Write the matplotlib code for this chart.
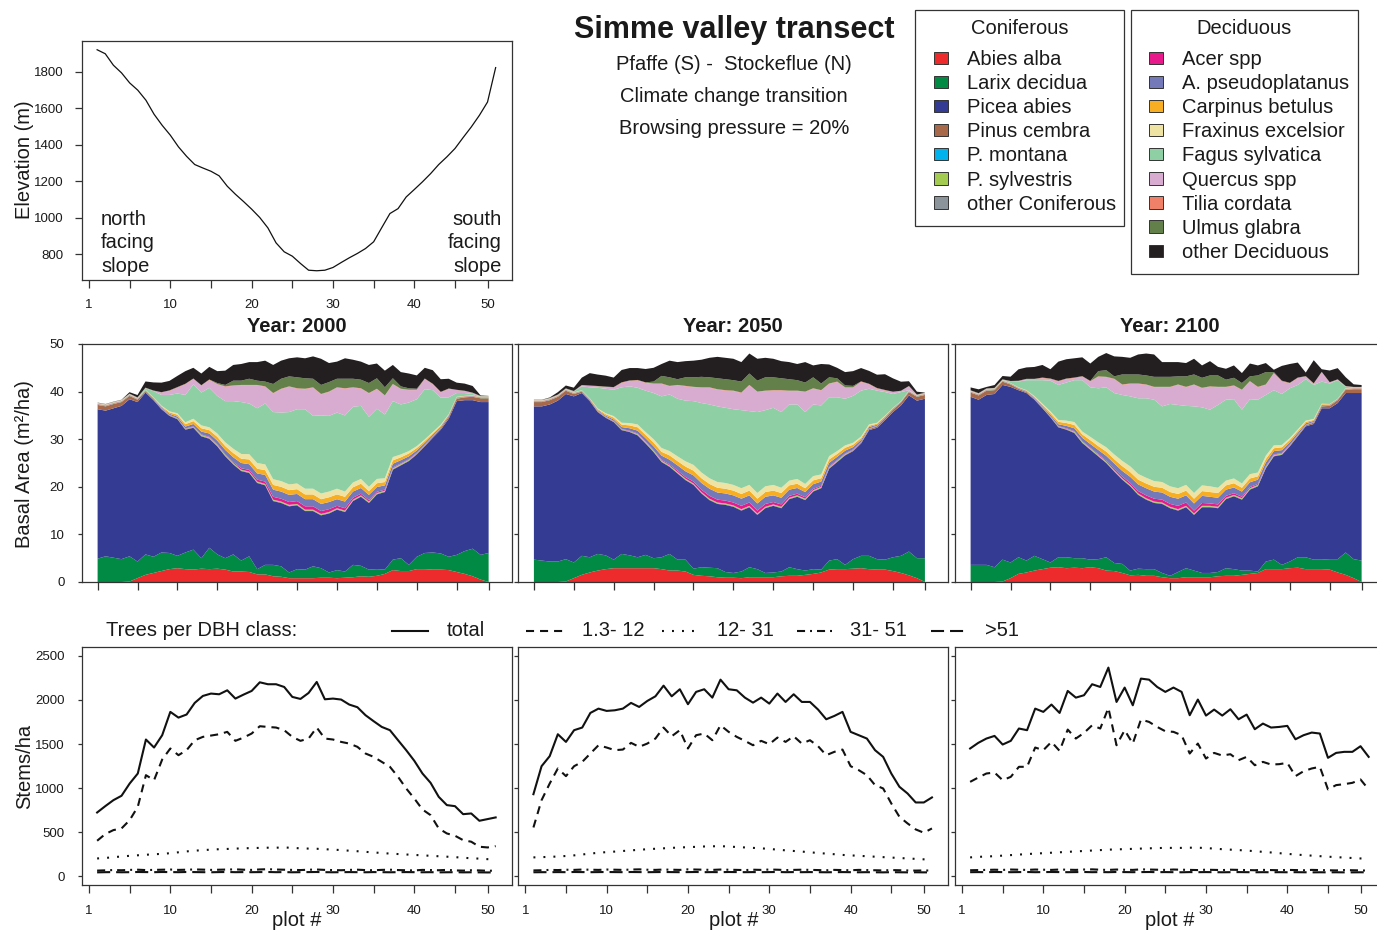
import matplotlib
matplotlib.use("Agg")
import matplotlib.pyplot as plt
from matplotlib.patches import Rectangle
import numpy as np

plt.rcParams['font.family'] = ['Liberation Sans', 'DejaVu Sans']
plt.rcParams['lines.scale_dashes'] = False

# ---------------------------------------------------------------- data
plots = np.arange(1, 51)
years = [2000, 2050, 2100]

elevation = [1922, 1900, 1837, 1795, 1740, 1700, 1645, 1568, 1507, 1453,
             1389, 1337, 1292, 1273, 1255, 1230, 1173, 1129, 1089, 1047,
             1001, 944, 862, 813, 789, 749, 712, 709, 712, 727,
             754, 780, 804, 831, 868, 946, 1023, 1050, 1114, 1155,
             1197, 1242, 1292, 1334, 1380, 1440, 1498, 1562, 1635, 1824]

con_names = ['Abies alba', 'Larix decidua', 'Picea abies', 'Pinus cembra',
             'P. montana', 'P. sylvestris', 'other Coniferous']
con_colors = ['#ED2A2C', '#008A43', '#333B93', '#A8694B',
              '#00B3EE', '#A3CB50', '#8B939B']
dec_names = ['Acer spp', 'A. pseudoplatanus', 'Carpinus betulus',
             'Fraxinus excelsior', 'Fagus sylvatica', 'Quercus spp',
             'Tilia cordata', 'Ulmus glabra', 'other Deciduous']
dec_colors = ['#E8198B', '#7479BA', '#F7AE23', '#EFE3A4', '#8FCFA4',
              '#D8ABD0', '#F18068', '#637F4A', '#231F20']

# basal area (m2/ha) per plot, minor species (similar in all three years)
cembra = [0.9, 0.9, 0.9, 0.8, 0.7, 0.5, 0.3, 0.2, 0.15, 0.1,
          0.1, 0.1, 0.1, 0.1, 0.1, 0.1, 0.1, 0.1, 0.1, 0.1,
          0.1, 0.1, 0.1, 0.1, 0.1, 0.1, 0.1, 0.1, 0.1, 0.1,
          0.1, 0.1, 0.1, 0.1, 0.1, 0.1, 0.1, 0.1, 0.1, 0.1,
          0.15, 0.2, 0.2, 0.3, 0.4, 0.5, 0.6, 0.7, 0.8, 0.8]
montana = [0.03, 0.03, 0.03, 0.03, 0.03, 0.03, 0.03, 0.03, 0.03, 0.03,
           0.03, 0.03, 0.03, 0.03, 0.03, 0.03, 0.03, 0.03, 0.03, 0.03,
           0.03, 0.03, 0.03, 0.03, 0.03, 0.03, 0.03, 0.03, 0.03, 0.03,
           0.03, 0.03, 0.03, 0.03, 0.03, 0.03, 0.03, 0.03, 0.03, 0.03,
           0.03, 0.03, 0.03, 0.03, 0.03, 0.03, 0.03, 0.03, 0.03, 0.03]
sylvestris = [0.05, 0.05, 0.05, 0.05, 0.05, 0.05, 0.05, 0.05, 0.05, 0.05,
              0.05, 0.05, 0.05, 0.15, 0.15, 0.15, 0.15, 0.15, 0.15, 0.15,
              0.15, 0.15, 0.15, 0.15, 0.15, 0.15, 0.15, 0.15, 0.15, 0.15,
              0.15, 0.15, 0.15, 0.15, 0.15, 0.15, 0.15, 0.15, 0.15, 0.15,
              0.05, 0.05, 0.05, 0.05, 0.05, 0.05, 0.05, 0.05, 0.05, 0.05]
other_con = [0.02, 0.02, 0.02, 0.02, 0.02, 0.02, 0.02, 0.02, 0.02, 0.02,
             0.02, 0.02, 0.02, 0.02, 0.02, 0.02, 0.02, 0.02, 0.02, 0.02,
             0.02, 0.02, 0.02, 0.02, 0.02, 0.02, 0.02, 0.02, 0.02, 0.02,
             0.02, 0.02, 0.02, 0.02, 0.02, 0.02, 0.02, 0.02, 0.02, 0.02,
             0.02, 0.02, 0.02, 0.02, 0.02, 0.02, 0.02, 0.02, 0.02, 0.02]
acer = [0.05, 0.05, 0.05, 0.05, 0.05, 0.05, 0.05, 0.05, 0.05, 0.05,
        0.05, 0.05, 0.1, 0.1, 0.1, 0.1, 0.15, 0.2, 0.3, 0.35,
        0.4, 0.5, 0.6, 0.6, 0.6, 0.6, 0.7, 0.7, 0.6, 0.6,
        0.5, 0.5, 0.4, 0.35, 0.3, 0.25, 0.2, 0.15, 0.1, 0.1,
        0.1, 0.05, 0.05, 0.05, 0.05, 0.05, 0.05, 0.05, 0.05, 0.05]
pseudo = [0.05, 0.05, 0.05, 0.05, 0.05, 0.05, 0.05, 0.1, 0.15, 0.2,
          0.3, 0.4, 0.5, 0.6, 0.7, 0.8, 0.9, 1.0, 1.1, 1.2,
          1.3, 1.4, 1.5, 1.5, 1.5, 1.5, 1.5, 1.5, 1.5, 1.5,
          1.4, 1.4, 1.3, 1.2, 1.1, 1.0, 0.9, 0.8, 0.7, 0.6,
          0.5, 0.4, 0.3, 0.2, 0.15, 0.1, 0.05, 0.05, 0.05, 0.05]
carpinus = [0.05, 0.05, 0.05, 0.05, 0.05, 0.05, 0.05, 0.1, 0.2, 0.3,
            0.4, 0.5, 0.6, 0.7, 0.7, 0.8, 0.8, 0.9, 0.9, 1.0,
            1.0, 1.0, 1.0, 1.0, 1.0, 1.0, 1.0, 1.0, 1.0, 1.0,
            1.0, 1.0, 0.9, 0.9, 0.8, 0.8, 0.7, 0.7, 0.6, 0.6,
            0.5, 0.4, 0.3, 0.2, 0.15, 0.1, 0.05, 0.05, 0.05, 0.05]
fraxinus = [0.05, 0.05, 0.05, 0.05, 0.05, 0.05, 0.05, 0.05, 0.1, 0.2,
            0.3, 0.4, 0.5, 0.6, 0.6, 0.7, 0.8, 0.9, 1.0, 1.1,
            1.2, 1.2, 1.2, 1.2, 1.2, 1.2, 1.2, 1.2, 1.2, 1.2,
            1.2, 1.1, 1.0, 1.0, 0.9, 0.9, 0.8, 0.7, 0.6, 0.5,
            0.4, 0.3, 0.25, 0.2, 0.1, 0.05, 0.05, 0.05, 0.05, 0.05]
tilia = [0.03, 0.03, 0.03, 0.03, 0.03, 0.03, 0.03, 0.03, 0.03, 0.1,
         0.1, 0.1, 0.1, 0.1, 0.1, 0.1, 0.1, 0.1, 0.1, 0.1,
         0.1, 0.1, 0.1, 0.1, 0.1, 0.1, 0.1, 0.1, 0.1, 0.1,
         0.1, 0.1, 0.1, 0.1, 0.1, 0.1, 0.1, 0.1, 0.1, 0.1,
         0.1, 0.1, 0.1, 0.1, 0.1, 0.03, 0.03, 0.03, 0.03, 0.03]

# basal area (m2/ha) per plot, main species, year 2000
abies_2000 = [0, 0, 0, 0, 0.1, 0.8, 1.5, 1.9, 2.3, 2.7,
              2.9, 2.7, 2.6, 2.8, 2.7, 2.8, 2.6, 2.2, 2.2, 2.1,
              1.6, 1.6, 1.2, 1.1, 0.8, 0.8, 0.8, 0.8, 0.9, 0.9,
              0.8, 0.9, 1.0, 1.2, 1.1, 1.3, 1.7, 2.5, 2.3, 2.3,
              2.7, 2.7, 2.6, 2.6, 2.5, 2.1, 1.7, 1.2, 0.5, 0]
larix_2000 = [4.9, 5.4, 5.1, 4.8, 5.3, 3.5, 4.3, 3.4, 3.9, 3.4,
              2.6, 3.5, 4.2, 2.2, 4.5, 3.0, 2.4, 3.6, 2.3, 3.3,
              1.1, 2.0, 2.4, 2.2, 1.2, 1.9, 1.8, 2.5, 2.0, 1.1,
              1.7, 1.3, 2.6, 2.2, 1.5, 1.4, 0.9, 2.2, 2.7, 1.3,
              2.6, 3.4, 3.6, 3.4, 2.8, 3.6, 4.8, 5.8, 5.2, 6.1]
picea_2000 = [31.4, 30.6, 31.4, 32.2, 33.0, 33.5, 34.0, 32.9, 30.1, 28.8,
              28.7, 25.8, 25.6, 25.6, 22.9, 22.7, 21.4, 18.9, 18.8, 17.5,
              18.1, 16.7, 13.4, 13.3, 13.9, 13.4, 12.3, 11.6, 11.1, 12.4,
              12.7, 12.5, 13.4, 14.5, 14.0, 15.7, 16.3, 18.9, 19.5, 21.8,
              21.5, 22.4, 24.1, 26.0, 29.0, 32.3, 31.7, 31.2, 32.1, 31.7]
fagus_2000 = [0.05, 0.05, 0.05, 0.05, 0.05, 0.05, 0.3, 1.3, 2.25, 3.45,
              4.15, 5.75, 7.2, 6.9, 8.3, 7.9, 8.65, 10.0, 10.9, 10.65,
              11.5, 12.8, 14.1, 14.4, 15.2, 15.6, 16.7, 15.3, 16.4, 15.9,
              16.0, 16.0, 15.9, 15.35, 14.7, 14.75, 13.4, 11.75, 10.5, 10.2,
              9.85, 10.55, 8.8, 5.65, 3.55, 0.8, 0.6, 0.3, 0.05, 0.05]
quercus_2000 = [0.05, 0.05, 0.05, 0.05, 0.05, 0.05, 0.05, 0.05, 0.5, 0.8,
                1.2, 2.2, 1.1, 1.4, 1.6, 2.4, 3.0, 3.2, 3.5, 3.8,
                4.8, 3.5, 3.9, 4.9, 5.3, 4.3, 4.2, 5.9, 4.4, 5.0,
                5.2, 5.6, 4.0, 3.6, 4.9, 4.1, 3.9, 3.5, 3.2, 2.6,
                1.9, 2.1, 1.2, 1.1, 1.7, 0.6, 0.4, 0.2, 0.05, 0.05]
ulmus_2000 = [0.05, 0.05, 0.05, 0.05, 0.05, 0.05, 0.05, 0.05, 0.05, 0.05,
              0.05, 0.05, 0.05, 0.05, 0.05, 0.2, 0.3, 1.0, 0.9, 1.3,
              0.9, 1.0, 1.9, 2.1, 2.1, 2.3, 2.2, 1.8, 1.9, 2.0,
              1.8, 2.0, 1.8, 1.8, 2.1, 2.2, 1.7, 1.2, 0.5, 0.3,
              0.2, 0.05, 0.05, 0.05, 0.05, 0.05, 0.05, 0.05, 0.05, 0.05]
other_dec_2000 = [0.02, 0.02, 0.02, 0.02, 0.3, 0.5, 1.3, 1.7, 2.0, 2.0,
                  2.35, 2.65, 2.25, 2.45, 2.65, 2.5, 3.0, 3.3, 3.5, 3.5,
                  3.9, 4.4, 4.0, 3.8, 3.8, 4.2, 4.2, 4.7, 5.5, 4.0,
                  3.6, 4.3, 4.0, 3.8, 3.8, 3.1, 3.5, 2.8, 3.0, 3.1,
                  2.8, 2.25, 2.85, 2.65, 2.05, 1.5, 1.5, 1.4, 0.1, 0.02]

# year 2050
abies_2050 = [0, 0, 0, 0, 0.1, 0.8, 1.5, 2.0, 2.4, 2.7,
              2.9, 2.9, 2.9, 2.9, 2.9, 2.9, 2.7, 2.4, 2.4, 2.2,
              1.5, 1.3, 1.2, 1.0, 0.9, 0.9, 0.8, 1.0, 1.0, 1.0,
              1.0, 1.2, 1.3, 1.3, 1.5, 1.7, 2.0, 2.6, 2.7, 2.7,
              2.8, 2.9, 2.7, 2.6, 2.6, 2.3, 1.9, 1.4, 0.8, 0]
larix_2050 = [4.7, 4.5, 4.3, 4.3, 4.7, 3.3, 4.0, 3.2, 3.5, 2.9,
              1.8, 3.0, 2.7, 2.3, 2.8, 2.1, 2.5, 3.5, 2.3, 2.5,
              1.3, 1.8, 1.8, 1.9, 1.2, 1.0, 1.4, 2.1, 1.7, 0.9,
              1.0, 1.0, 1.8, 1.4, 0.9, 1.0, 0.6, 1.9, 2.1, 0.9,
              2.0, 2.6, 2.8, 2.2, 2.1, 2.9, 3.6, 5.0, 4.2, 5.0]
picea_2050 = [32.2, 32.4, 33.0, 33.8, 34.7, 34.9, 34.2, 32.8, 29.8, 28.9,
              28.9, 26.0, 25.9, 25.6, 23.4, 22.3, 20.0, 18.3, 18.1, 16.7,
              17.6, 15.5, 14.2, 13.5, 14.1, 13.9, 12.8, 12.6, 11.4, 13.6,
              14.0, 13.3, 14.3, 15.2, 14.8, 16.3, 17.1, 19.3, 20.4, 23.0,
              22.7, 23.6, 26.4, 27.6, 29.3, 30.5, 31.6, 32.8, 33.1, 33.5]
fagus_2050 = [0.05, 0.05, 0.05, 0.05, 0.05, 0.2, 0.8, 2.3, 4.35, 5.15,
              5.55, 7.45, 7.7, 7.7, 8.7, 9.7, 10.85, 11.9, 12.1, 12.75,
              13.4, 14.6, 15.5, 15.9, 15.8, 15.9, 16.4, 15.5, 17.0, 16.0,
              16.2, 15.9, 16.0, 15.65, 15.1, 15.05, 14.5, 12.35, 11.3, 9.8,
              9.85, 9.65, 7.5, 6.75, 4.95, 2.9, 1.9, 0.1, 0.05, 0.05]
quercus_2050 = [0.05, 0.05, 0.05, 0.05, 0.05, 0.05, 0.2, 0.3, 0.3, 0.3,
                0.4, 0.9, 1.1, 1.5, 1.6, 1.9, 2.6, 1.7, 2.8, 3.0,
                2.9, 3.2, 3.5, 3.5, 3.6, 3.8, 3.6, 5.4, 4.2, 4.0,
                3.6, 4.5, 2.8, 2.8, 4.2, 3.3, 3.1, 2.8, 3.2, 2.3,
                1.7, 1.8, 0.9, 0.4, 0.3, 0.4, 0.2, 0.8, 0.05, 0.05]
ulmus_2050 = [0.05, 0.05, 0.05, 0.05, 0.05, 0.05, 0.05, 0.05, 0.05, 0.05,
              0.05, 0.05, 0.05, 0.05, 0.05, 0.4, 1.6, 1.8, 1.2, 1.8,
              2.0, 2.2, 2.1, 2.3, 2.3, 2.2, 2.3, 2.4, 2.3, 2.8,
              2.7, 2.5, 2.4, 2.2, 1.9, 2.3, 1.4, 1.3, 0.7, 0.4,
              0.3, 0.05, 0.05, 0.05, 0.05, 0.05, 0.05, 0.05, 0.05, 0.05]
other_dec_2050 = [0.02, 0.02, 0.1, 0.5, 0.6, 0.7, 1.55, 2.6, 2.4, 2.3,
                  2.0, 2.6, 2.6, 2.5, 2.8, 2.9, 2.5, 3.5, 3.6, 3.4,
                  3.5, 3.6, 4.1, 4.5, 4.5, 4.5, 4.1, 4.2, 4.6, 4.1,
                  3.9, 3.6, 3.6, 3.4, 4.3, 2.5, 4.1, 2.7, 2.2, 2.8,
                  3.1, 2.8, 2.7, 2.8, 3.3, 2.8, 1.9, 1.0, 0.6, 0.02]

# year 2100
abies_2100 = [0, 0, 0, 0, 0.1, 0.8, 1.7, 2.0, 2.4, 2.7,
              3.0, 3.1, 2.9, 3.0, 2.9, 3.1, 2.9, 2.4, 2.3, 1.9,
              1.4, 1.5, 1.3, 1.3, 1.0, 0.8, 0.8, 1.0, 1.0, 1.0,
              1.0, 1.2, 1.3, 1.3, 1.5, 1.7, 1.9, 2.7, 2.7, 2.7,
              2.9, 3.0, 2.7, 2.7, 2.7, 2.6, 2.0, 1.5, 0.8, 0]
larix_2100 = [3.6, 3.6, 3.6, 3.1, 4.6, 3.3, 3.5, 2.5, 3.1, 2.1,
              1.1, 2.1, 2.3, 2.0, 2.1, 1.6, 1.9, 2.8, 1.7, 1.9,
              1.0, 1.3, 1.4, 1.4, 0.9, 0.5, 1.3, 1.9, 1.4, 0.9,
              0.9, 0.9, 1.6, 1.4, 0.9, 0.7, 0.3, 1.6, 2.0, 0.9,
              1.4, 2.2, 2.5, 2.0, 2.0, 2.2, 2.8, 4.7, 4.0, 4.5]
picea_2100 = [35.3, 34.7, 35.7, 36.4, 36.7, 36.9, 35.1, 35.2, 32.8, 31.7,
              30.5, 27.3, 26.8, 26.3, 24.2, 23.1, 21.6, 19.8, 19.2, 17.7,
              17.7, 15.5, 14.6, 13.9, 14.5, 14.2, 12.9, 12.8, 11.7, 13.8,
              13.8, 13.4, 14.5, 15.3, 14.9, 17.0, 17.9, 19.6, 21.7, 23.1,
              24.2, 25.4, 27.5, 28.5, 31.8, 31.7, 32.8, 33.5, 34.9, 35.2]
fagus_2100 = [0.05, 0.05, 0.05, 0.05, 0.05, 0.3, 1.2, 2.1, 3.35, 4.95,
              6.45, 7.35, 8.0, 8.8, 10.8, 10.4, 11.35, 12.6, 12.9, 13.85,
              14.7, 15.9, 16.7, 17.1, 15.9, 17.3, 17.5, 16.6, 18.2, 16.4,
              16.1, 17.4, 17.0, 16.65, 15.5, 15.75, 15.3, 12.75, 11.6, 10.7,
              10.45, 9.35, 8.7, 7.15, 4.65, 4.3, 3.9, 0.3, 0.05, 0.05]
quercus_2100 = [0.05, 0.05, 0.05, 0.05, 0.05, 0.05, 0.1, 0.2, 0.2, 0.4,
                0.3, 0.7, 0.7, 0.4, 0.7, 1.2, 2.4, 2.1, 2.9, 2.1,
                2.6, 3.0, 2.8, 2.6, 4.0, 3.5, 4.2, 3.9, 4.5, 4.0,
                4.8, 3.7, 2.6, 2.8, 4.1, 3.7, 2.6, 2.1, 3.5, 2.6,
                1.0, 1.4, 0.5, 0.2, 1.9, 0.2, 0.1, 0.1, 0.05, 0.05]
ulmus_2100 = [0.05, 0.05, 0.05, 0.05, 0.05, 0.05, 0.05, 0.05, 0.05, 0.05,
              0.05, 0.05, 0.05, 0.05, 0.05, 0.05, 1.1, 1.4, 0.5, 2.1,
              1.9, 1.9, 1.9, 2.1, 2.1, 2.1, 1.7, 2.2, 2.1, 2.1,
              2.3, 2.4, 1.5, 1.6, 1.4, 1.0, 2.4, 2.6, 0.2, 0.1,
              0.05, 0.05, 0.05, 0.05, 0.05, 0.05, 0.05, 0.05, 0.05, 0.05]
other_dec_2100 = [0.6, 0.8, 0.3, 0.6, 0.7, 0.9, 2.4, 2.4, 2.5, 2.65,
                  1.95, 4.05, 4.05, 4.05, 3.95, 3.65, 3.0, 3.6, 4.2, 3.7,
                  3.5, 4.2, 4.6, 4.7, 3.1, 3.1, 3.0, 2.8, 3.3, 2.6,
                  3.0, 1.8, 2.3, 2.6, 2.1, 2.7, 2.1, 1.9, 0.5, 3.1,
                  3.95, 3.15, 0.75, 4.85, 0.55, 2.45, 2.35, 1.85, 0.55, 0.4]

# stems per ha by DBH class (cm)
dbh_labels = ['total', '1.3- 12', '12- 31', '31- 51', '>51']

total_2000 = [722, 794, 862, 912, 1051, 1165, 1551, 1460, 1600, 1865,
              1800, 1835, 1967, 2046, 2073, 2065, 2110, 2016, 2061, 2103,
              2201, 2179, 2179, 2148, 2035, 2012, 2080, 2205, 2008, 2016,
              2005, 1948, 1918, 1827, 1759, 1694, 1657, 1543, 1430, 1309,
              1165, 1059, 900, 806, 794, 703, 711, 628, 647, 666]
small_2000 = [401, 477, 522, 541, 635, 787, 1146, 1089, 1324, 1449,
              1373, 1430, 1543, 1581, 1596, 1611, 1638, 1536, 1573, 1619,
              1702, 1694, 1687, 1657, 1581, 1536, 1562, 1687, 1562, 1551,
              1524, 1505, 1468, 1392, 1354, 1297, 1241, 1127, 995, 881,
              756, 692, 541, 484, 458, 408, 390, 333, 325, 340]
medium_2000 = [200, 205, 215, 222, 230, 236, 242, 248, 252, 260,
               270, 280, 288, 295, 300, 305, 308, 312, 315, 318,
               320, 322, 322, 325, 320, 315, 312, 310, 305, 300,
               295, 288, 282, 275, 268, 262, 255, 250, 245, 240,
               235, 230, 225, 220, 215, 208, 202, 198, 192, 190]
large_2000 = [62, 65, 68, 66, 70, 72, 68, 70, 72, 74,
              70, 72, 75, 73, 70, 72, 74, 76, 72, 70,
              75, 78, 74, 72, 70, 68, 72, 74, 70, 68,
              66, 70, 72, 68, 66, 70, 72, 68, 66, 64,
              70, 68, 66, 70, 64, 62, 66, 64, 60, 62]
huge_2000 = [42, 44, 45, 43, 44, 46, 45, 44, 46, 45,
             44, 46, 45, 44, 43, 45, 46, 44, 45, 44,
             45, 46, 44, 45, 43, 44, 45, 46, 44, 43,
             44, 45, 44, 43, 45, 44, 43, 44, 45, 44,
             43, 44, 42, 43, 44, 42, 43, 42, 41, 42]

total_2050 = [930, 1248, 1362, 1611, 1524, 1657, 1687, 1853, 1902, 1876,
              1883, 1902, 1967, 1921, 1989, 2042, 2163, 2042, 2122, 1952,
              2092, 2122, 2027, 2231, 2122, 2110, 2027, 1970, 2027, 1959,
              2073, 1978, 2065, 1978, 1978, 1891, 1781, 1819, 1865, 1638,
              1600, 1562, 1430, 1354, 1165, 1014, 938, 836, 836, 893]
small_2050 = [552, 862, 1051, 1222, 1135, 1248, 1297, 1392, 1486, 1460,
              1430, 1437, 1513, 1468, 1505, 1562, 1687, 1588, 1657, 1449,
              1600, 1619, 1543, 1713, 1638, 1581, 1536, 1486, 1536, 1498,
              1573, 1524, 1588, 1505, 1543, 1475, 1373, 1411, 1437, 1248,
              1203, 1146, 1033, 995, 825, 673, 598, 530, 492, 541]
medium_2050 = [212, 215, 218, 222, 228, 235, 245, 255, 265, 272,
               278, 285, 292, 298, 305, 310, 315, 320, 325, 328,
               332, 336, 338, 340, 335, 330, 325, 320, 315, 308,
               300, 292, 285, 278, 270, 262, 255, 248, 240, 235,
               230, 225, 220, 215, 210, 205, 200, 195, 190, 188]
large_2050 = [64, 66, 70, 68, 72, 70, 74, 72, 70, 74,
              72, 70, 74, 76, 72, 70, 74, 72, 70, 76,
              74, 72, 70, 74, 72, 70, 68, 72, 70, 74,
              72, 68, 70, 72, 70, 68, 66, 70, 68, 66,
              70, 68, 66, 64, 68, 66, 64, 62, 64, 62]
huge_2050 = [43, 44, 44, 45, 44, 46, 45, 44, 45, 46,
             45, 44, 46, 45, 44, 45, 46, 45, 44, 45,
             46, 44, 45, 44, 46, 45, 44, 45, 44, 45,
             46, 44, 45, 44, 45, 44, 43, 44, 45, 44,
             43, 44, 43, 42, 44, 43, 42, 43, 42, 42]

total_2100 = [1449, 1513, 1562, 1592, 1494, 1536, 1676, 1657, 1902, 1865,
              1948, 1853, 2103, 2027, 2054, 2179, 2148, 2368, 1978, 2141,
              1940, 2243, 2231, 2148, 2092, 2141, 2092, 1827, 2005, 1823,
              1891, 1823, 1895, 1781, 1834, 1668, 1732, 1687, 1694, 1706,
              1554, 1600, 1630, 1619, 1343, 1399, 1411, 1411, 1475, 1354]
small_2100 = [1070, 1119, 1165, 1176, 1089, 1127, 1241, 1241, 1460, 1430,
              1524, 1422, 1664, 1562, 1626, 1713, 1676, 1910, 1486, 1657,
              1505, 1778, 1751, 1694, 1645, 1638, 1600, 1392, 1505, 1335,
              1399, 1369, 1384, 1316, 1354, 1259, 1297, 1267, 1271, 1286,
              1135, 1191, 1222, 1241, 984, 1033, 1044, 1059, 1097, 984]
medium_2100 = [212, 218, 222, 226, 232, 238, 244, 250, 255, 260,
               265, 270, 275, 280, 285, 290, 295, 300, 303, 306,
               309, 312, 315, 318, 320, 320, 320, 322, 322, 318,
               312, 305, 300, 295, 290, 282, 275, 268, 260, 252,
               245, 238, 232, 226, 220, 215, 210, 205, 200, 200]
large_2100 = [66, 68, 70, 72, 70, 74, 72, 70, 74, 72,
              70, 74, 72, 70, 74, 76, 72, 70, 74, 72,
              70, 76, 74, 72, 70, 74, 72, 70, 68, 72,
              70, 68, 72, 70, 68, 66, 70, 68, 66, 70,
              68, 66, 70, 68, 66, 64, 68, 66, 64, 62]
huge_2100 = [44, 45, 44, 46, 45, 44, 45, 46, 44, 45,
             46, 45, 44, 45, 46, 44, 45, 44, 46, 45,
             44, 45, 46, 44, 45, 44, 43, 45, 44, 45,
             44, 43, 44, 45, 44, 43, 44, 43, 44, 43,
             44, 43, 42, 43, 42, 43, 42, 42, 43, 42]

basal = {
    2000: [abies_2000, larix_2000, picea_2000, cembra, montana, sylvestris,
           other_con, acer, pseudo, carpinus, fraxinus, fagus_2000,
           quercus_2000, tilia, ulmus_2000, other_dec_2000],
    2050: [abies_2050, larix_2050, picea_2050, cembra, montana, sylvestris,
           other_con, acer, pseudo, carpinus, fraxinus, fagus_2050,
           quercus_2050, tilia, ulmus_2050, other_dec_2050],
    2100: [abies_2100, larix_2100, picea_2100, cembra, montana, sylvestris,
           other_con, acer, pseudo, carpinus, fraxinus, fagus_2100,
           quercus_2100, tilia, ulmus_2100, other_dec_2100],
}
stems = {
    2000: [total_2000, small_2000, medium_2000, large_2000, huge_2000],
    2050: [total_2050, small_2050, medium_2050, large_2050, huge_2050],
    2100: [total_2100, small_2100, medium_2100, large_2100, huge_2100],
}

# line style per DBH class (dash lengths in points)
dbh_styles = ['-', (0, (5.8, 4.3)), (0, (1.4, 5.8)),
              (0, (5.8, 3.6, 1.4, 3.6)), (0, (9.4, 4.3))]

# ---------------------------------------------------------------- layout
W, H = 1377, 935
fig = plt.figure(figsize=(W / 100, H / 100), dpi=100)
INK = '#333333'
TXT = '#1a1a1a'
BIG = 14.5


def px_axes(left, top, right, bottom):
    return fig.add_axes([left / W, 1 - bottom / H, (right - left) / W, (bottom - top) / H])


def frame(ax, ylen, xlen, ypad, xpad):
    for s in ax.spines.values():
        s.set_color(INK)
        s.set_linewidth(0.9)
    ax.tick_params(axis='y', length=ylen, width=0.9, color=INK, labelsize=9.5,
                   labelcolor=TXT, pad=ypad)
    ax.tick_params(axis='x', length=xlen, width=0.9, color=INK, labelsize=9.5,
                   labelcolor=TXT, pad=xpad)


line_xticks = [0, 5, 10, 15, 20, 25, 30, 35, 40, 45, 49]
line_xlabels = ['1', '', '10', '', '20', '', '30', '', '40', '', '50']
lefts = [82, 518.3, 955]

# elevation profile
ax = px_axes(82, 41, 512, 279.5)
ax.plot(plots, elevation, color='#111111', lw=0.9)
ax.set_xlim(-0.86, 52.01)
ax.set_ylim(661, 1970)
ax.set_yticks([800, 1000, 1200, 1400, 1600, 1800])
ax.set_xticks(line_xticks)
ax.set_xticklabels(line_xlabels)
frame(ax, 5.2, 5.5, 8.0, 8.6)

# basal area panels
for i, yr in enumerate(years):
    ax = px_axes(lefts[i], 344, lefts[i] + 430, 582)
    ax.stackplot(plots, *basal[yr], colors=con_colors + dec_colors, linewidth=0)
    ax.set_xlim(-0.955, 52.93)
    ax.set_ylim(0, 50)
    ax.set_yticks([0, 10, 20, 30, 40, 50])
    ax.set_xticks([1, 6, 11, 16, 21, 26, 31, 36, 41, 46, 50])
    ax.set_xticklabels([])
    frame(ax, 3.0, 5.5, 9.6, 8.6)
    if i > 0:
        ax.set_yticklabels([])
    ax.text(0.5, 1 + 18 / 238, f'Year: {yr}', transform=ax.transAxes,
            ha='center', va='center', fontsize=BIG, fontweight='bold', color=TXT)

# stems per DBH class panels
for i, yr in enumerate(years):
    ax = px_axes(lefts[i], 647, lefts[i] + 430, 885.3)
    for series, ls in zip(stems[yr], dbh_styles):
        ax.plot(plots, series, color='#111111', lw=1.5, linestyle=ls,
                dash_capstyle='butt')
    ax.set_xlim(-0.86, 52.01)
    ax.set_ylim(-105, 2602)
    ax.set_yticks([0, 500, 1000, 1500, 2000, 2500])
    ax.set_xticks(line_xticks)
    ax.set_xticklabels(line_xlabels)
    frame(ax, 3.0, 5.5, 9.4, 8.6)
    if i > 0:
        ax.set_yticklabels([])
    ax.text(0.5, -(921 - 885.3) / 238.3, 'plot #', transform=ax.transAxes,
            ha='center', va='center', fontsize=BIG, color=TXT)

# overlay in pixel units for titles, legends and slope notes
lay = fig.add_axes([0, 0, 1, 1], zorder=5)
lay.set_xlim(0, W)
lay.set_ylim(H, 0)
lay.axis('off')

for k, word in enumerate(['north', 'facing', 'slope']):
    lay.text(101, 225 + 23.5 * k, word, fontsize=BIG, color=TXT, va='baseline', ha='left')
for k, word in enumerate(['south', 'facing', 'slope']):
    lay.text(502, 225 + 23.5 * k, word, fontsize=BIG, color=TXT, va='baseline', ha='right')

lay.text(734, 38, 'Simme valley transect', fontsize=22, fontweight='bold',
         ha='center', va='baseline', color=TXT)
for k, line in enumerate(['Pfaffe (S) -  Stockeflue (N)', 'Climate change transition',
                          'Browsing pressure = 20%']):
    lay.text(734, 70 + 32 * k, line, fontsize=BIG, ha='center', va='baseline', color=TXT)

# species legends
for (x0, x1, y1, title, names, cols, sw_x, tx) in [
        (915, 1124, 226, 'Coniferous', con_names, con_colors, 933.5, 966.7),
        (1130.7, 1357.7, 274.3, 'Deciduous', dec_names, dec_colors, 1149, 1181.7)]:
    lay.add_patch(Rectangle((x0, 9.5), x1 - x0, y1 - 9.5, fill=False, ec=INK, lw=0.9))
    lay.text((x0 + x1) / 2, 33.5, title, fontsize=BIG, ha='center', va='baseline', color=TXT)
    for k, (name, col) in enumerate(zip(names, cols)):
        yb = 65 + 24.1 * k
        lay.add_patch(Rectangle((sw_x, yb - 13.3), 14.2, 12.3, fc=col, ec=INK, lw=0.7))
        lay.text(tx, yb, name, fontsize=BIG, ha='left', va='baseline', color=TXT)

# DBH class legend
lay.text(106, 636.5, 'Trees per DBH class:', fontsize=BIG, ha='left', va='baseline', color=TXT)
sample_pos = [(392, 428, 447), (526, 563, 581.7), (661.7, 695, 716.7),
              (796.7, 832.7, 850), (930.7, 966, 985)]
for (sx0, sx1, tx), lab, ls in zip(sample_pos, dbh_labels, dbh_styles):
    lay.plot([sx0, sx1], [631, 631], color='#111111', lw=1.5, linestyle=ls,
             dash_capstyle='butt')
    lay.text(tx, 636.5, lab, fontsize=BIG, ha='left', va='baseline', color=TXT)

# axis titles
fig.text(25 / W, 1 - 160 / H, 'Elevation (m)', rotation=90, ha='center', va='center',
         fontsize=BIG, color=TXT)
fig.text(25 / W, 1 - 464 / H, 'Basal Area (m²/ha)', rotation=90, ha='center', va='center',
         fontsize=BIG, color=TXT)
fig.text(25 / W, 1 - 766.5 / H, 'Stems/ha', rotation=90, ha='center', va='center',
         fontsize=BIG, color=TXT)

fig.savefig('out.png', dpi=100)
